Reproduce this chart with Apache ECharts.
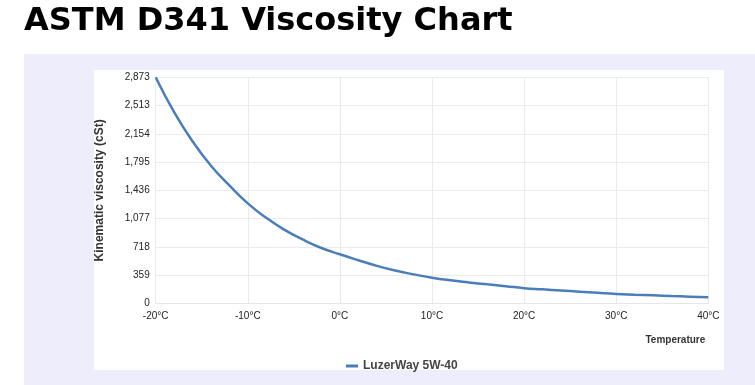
<!DOCTYPE html>
<html>
<head>
<meta charset="utf-8">
<script src="https://cdn.jsdelivr.net/npm/echarts@6/dist/echarts.min.js"></script>
<style>
html,body{margin:0;padding:0;background:#fff;}
#chart{width:755px;height:385px;}
</style>
</head>
<body>
<div id="chart"></div>
<script>
const titleText = 'ASTM D341 Viscosity Chart';
const seriesName = 'LuzerWay 5W-40';
const yAxisName = 'Kinematic viscosity (cSt)';
const xAxisName = 'Temperature';
const temperatures = [-20,-18,-16,-14,-12,-10,-8,-6,-4,-2,0,2,4,6,8,10,12,14,16,18,20,22,24,26,28,30,32,34,36,38,40];
const viscosity = [2873,2430,2060,1750,1500,1272,1088,935,810,705,625,550,478,418,370,328,295,268,243,220,195,180,165,150,135,121,112,104,95,87,79];
const yMax = 2873;
const ySteps = 8;

const chart = echarts.init(document.getElementById('chart'));
const font = 'Liberation Sans, Arial, sans-serif';
chart.setOption({
  backgroundColor: '#ffffff',
  animation: false,
  title: {
    text: titleText, left: 24, top: 6, padding: 0,
    textStyle: {fontFamily: 'DejaVu Sans', fontWeight: 'bold', fontSize: 32, color: '#000'}
  },
  graphic: [
    {type: 'rect', z: -10, shape: {x: 24, y: 54, width: 731, height: 331}, style: {fill: '#ededfb'}},
    {type: 'rect', z: -9, shape: {x: 94, y: 70, width: 630, height: 300}, style: {fill: '#ffffff'}}
  ],
  legend: {
    data: [seriesName], left: 341, top: 355,
    icon: 'rect', itemWidth: 12, itemHeight: 3, itemGap: 4,
    textStyle: {fontFamily: font, fontWeight: 'bold', fontSize: 12, color: '#444'}
  },
  grid: {left: 155.7, right: 46.7, top: 77.3, bottom: 81.5, containLabel: false},
  xAxis: {
    type: 'value', min: -20, max: 40, interval: 10,
    name: xAxisName, nameLocation: 'end', nameGap: -3,
    nameTextStyle: {fontFamily: font, fontWeight: 'bold', fontSize: 10, color: '#333', align: 'right', verticalAlign: 'top', padding: [32, 0, 0, 0]},
    axisLine: {show: true, lineStyle: {color: '#e6e6e6'}},
    axisTick: {show: false},
    axisLabel: {formatter: '{value}°C', fontFamily: font, fontSize: 10, color: '#222', margin: 8},
    splitLine: {show: true, lineStyle: {color: '#ebebeb'}}
  },
  yAxis: {
    type: 'value', min: 0, max: yMax, interval: yMax / ySteps,
    name: yAxisName, nameLocation: 'middle', nameGap: 50,
    nameTextStyle: {fontFamily: font, fontWeight: 'bold', fontSize: 12, color: '#333'},
    axisLine: {show: true, lineStyle: {color: '#e6e6e6'}},
    axisTick: {show: false},
    axisLabel: {formatter: v => Math.floor(v + 1e-6).toLocaleString('en-US'), fontFamily: font, fontSize: 10, color: '#222', margin: 6},
    splitLine: {show: true, lineStyle: {color: '#ebebeb'}}
  },
  series: [{
    name: seriesName, type: 'line', smooth: true, showSymbol: false,
    data: temperatures.map((t, i) => [t, viscosity[i]]),
    lineStyle: {color: '#4a7ebb', width: 2.5},
    itemStyle: {color: '#4a7ebb'}
  }]
});
</script>
</body>
</html>
